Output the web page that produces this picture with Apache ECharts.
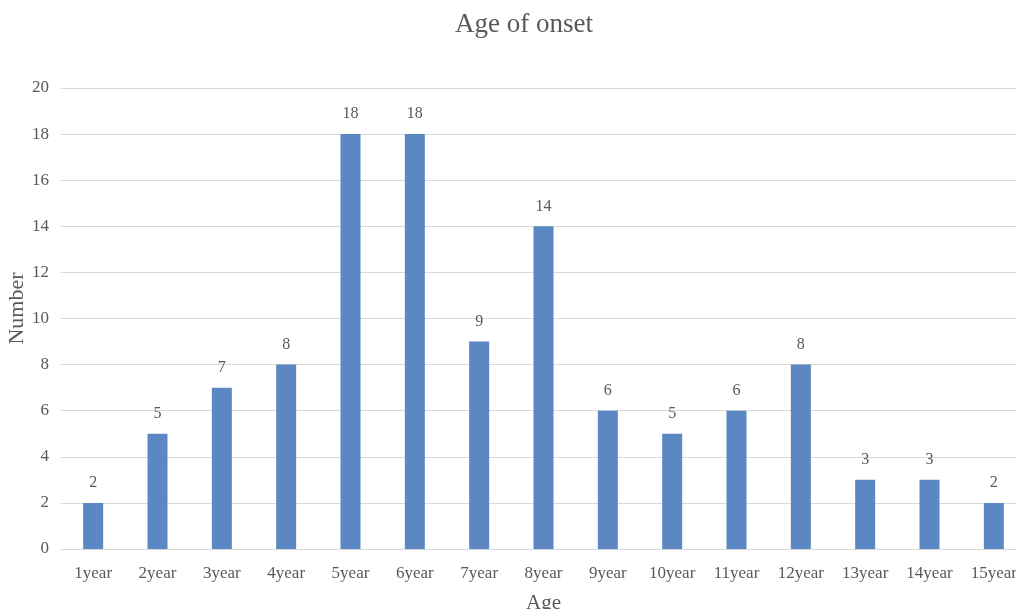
<!DOCTYPE html>
<html>
<head>
<meta charset="utf-8">
<script src="https://cdn.jsdelivr.net/npm/echarts@6/dist/echarts.min.js"></script>
<style>
  html, body { margin: 0; padding: 0; background: #fff; }
  #chart { width: 1016px; height: 609px; }
</style>
</head>
<body>
<div id="chart"></div>
<script>
// Age of onset distribution
const categories = ['1year', '2year', '3year', '4year', '5year', '6year', '7year', '8year',
  '9year', '10year', '11year', '12year', '13year', '14year', '15year'];
const counts = [2, 5, 7, 8, 18, 18, 9, 14, 6, 5, 6, 8, 3, 3, 2];

const FONT = '"Liberation Serif", "Times New Roman", serif';
const TEXT = '#595959';

const chart = echarts.init(document.getElementById('chart'), null, { renderer: 'canvas' });
chart.setOption({
  animation: false,
  backgroundColor: '#ffffff',
  title: {
    text: 'Age of onset',
    left: 450,
    top: 6,
    textStyle: { fontFamily: FONT, fontSize: 27, fontWeight: 'normal', color: TEXT }
  },
  grid: { left: 61, right: -10, top: 88, bottom: 60, containLabel: false, outerBoundsMode: 'none' },
  xAxis: {
    type: 'category',
    data: categories,
    name: 'Age',
    nameLocation: 'middle',
    nameGap: 44,
    nameTextStyle: { fontFamily: FONT, fontSize: 21, color: TEXT },
    axisLine: { lineStyle: { color: '#d9d9d9', width: 1 } },
    axisTick: { show: false },
    axisLabel: { fontFamily: FONT, fontSize: 17, color: TEXT, margin: 16, interval: 0 }
  },
  yAxis: {
    type: 'value',
    min: 0,
    max: 20,
    interval: 2,
    name: 'Number',
    nameLocation: 'middle',
    nameGap: 33,
    nameMoveOverlap: false,
    nameTextStyle: { fontFamily: FONT, fontSize: 22, color: TEXT, padding: [0, 0, 0, 20] },
    axisLine: { show: false },
    axisTick: { show: false },
    axisLabel: { fontFamily: FONT, fontSize: 17, color: TEXT, margin: 12 },
    splitLine: { lineStyle: { color: '#d9d9d9', width: 1 } }
  },
  series: [{
    type: 'bar',
    data: counts,
    barWidth: 20,
    itemStyle: { color: '#5b87c2' },
    label: {
      show: true,
      position: 'top',
      distance: 12,
      fontFamily: FONT,
      fontSize: 16,
      color: TEXT
    }
  }]
});
</script>
</body>
</html>
